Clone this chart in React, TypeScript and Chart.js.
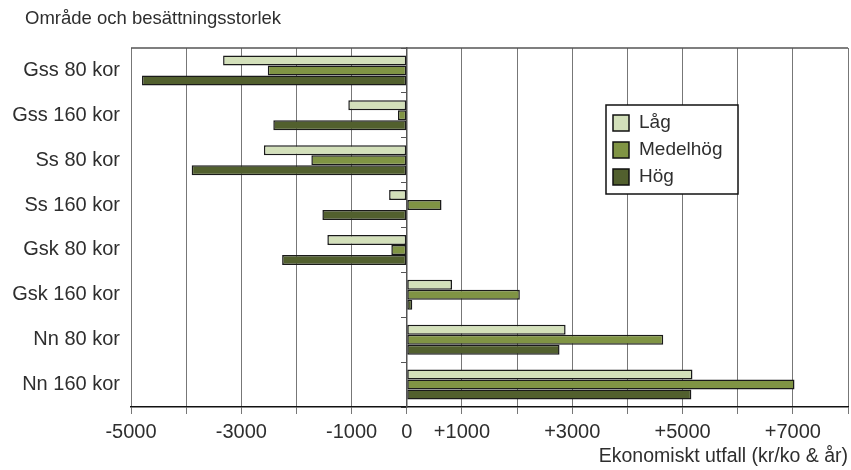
import { useEffect, useRef } from 'react';
import { Chart, registerables } from 'chart.js';

Chart.register(...registerables);

const categories = ['Gss 80 kor', 'Gss 160 kor', 'Ss 80 kor', 'Ss 160 kor', 'Gsk 80 kor', 'Gsk 160 kor', 'Nn 80 kor', 'Nn 160 kor'];
const lagValues = [-3330, -1060, -2590, -320, -1440, 820, 2880, 5180];
const medelhogValues = [-2520, -160, -1730, 630, -280, 2050, 4650, 7030];
const hogValues = [-4800, -2420, -3900, -1530, -2260, 100, 2770, 5160];
const seriesNames = ['Låg', 'Medelhög', 'Hög'];
const seriesColors = ['#d3e0ba', '#809444', '#52602e'];
const xLabeledTicks = [-5000, -3000, -1000, 0, 1000, 3000, 5000, 7000];
const xMin = -5000;
const xMax = 8000;
const xStep = 1000;
const titleText = 'Område och besättningsstorlek';
const xTitleText = 'Ekonomiskt utfall (kr/ko & år)';

const FONT = '"Liberation Sans", Arial, Helvetica, sans-serif';
const TEXT = '#2e2e2e';

const framePlugin = {
  id: 'frameTop',
  beforeDatasetsDraw(chart: any) {
    const { ctx, chartArea } = chart;
    ctx.save();
    ctx.strokeStyle = '#555';
    ctx.lineWidth = 1.5;
    ctx.beginPath();
    ctx.moveTo(chartArea.left, chartArea.top);
    ctx.lineTo(chartArea.right, chartArea.top);
    ctx.stroke();
    ctx.restore();
  },
};

const cornerTitlePlugin = {
  id: 'cornerTitle',
  afterDraw(chart: any, _args: any, opts: any) {
    const { ctx } = chart;
    ctx.save();
    ctx.font = `${opts.size}px ${FONT}`;
    ctx.fillStyle = TEXT;
    ctx.textAlign = 'left';
    ctx.textBaseline = 'middle';
    ctx.fillText(opts.text, opts.x, opts.y);
    ctx.restore();
  },
};

const boxLegendPlugin = {
  id: 'boxLegend',
  afterDraw(chart: any, _args: any, opts: any) {
    const { ctx } = chart;
    const { x, y, w, h, sw, rowH, textX } = opts;
    ctx.save();
    ctx.fillStyle = '#fff';
    ctx.fillRect(x, y, w, h);
    ctx.strokeStyle = '#111';
    ctx.lineWidth = 1.5;
    ctx.strokeRect(x, y, w, h);
    ctx.font = `19px ${FONT}`;
    ctx.textBaseline = 'middle';
    ctx.textAlign = 'left';
    chart.data.datasets.forEach((ds: any, i: number) => {
      const cy = y + 18 + i * rowH;
      ctx.fillStyle = ds.backgroundColor;
      ctx.fillRect(x + 7, cy - sw / 2, sw, sw);
      ctx.strokeStyle = '#111';
      ctx.lineWidth = 1.5;
      ctx.strokeRect(x + 7, cy - sw / 2, sw, sw);
      ctx.fillStyle = TEXT;
      ctx.fillText(ds.label, x + textX, cy);
    });
    ctx.restore();
  },
};

export default function App() {
  const ref = useRef<HTMLCanvasElement | null>(null);

  useEffect(() => {
    if (!ref.current) return;
    const seriesValues = [lagValues, medelhogValues, hogValues];
    const chart = new Chart(ref.current, {
      type: 'bar',
      data: {
        labels: categories,
        datasets: seriesNames.map((name, i) => ({
          label: name,
          data: seriesValues[i],
          backgroundColor: seriesColors[i],
          borderColor: '#1a1a1a',
          borderWidth: 1.5,
          borderSkipped: false,
          categoryPercentage: 0.667,
          barPercentage: 1.0,
          xAxisID: 'x',
          yAxisID: 'y',
        })),
      },
      options: {
        indexAxis: 'y',
        animation: false,
        responsive: false,
        layout: { padding: { left: 0, right: 3, top: 48, bottom: 0 } },
        plugins: {
          legend: { display: false },
          tooltip: { enabled: false },
          title: { display: false },
          cornerTitle: { text: titleText, x: 25, y: 19, size: 18.5 },
          boxLegend: { x: 606, y: 105, w: 132, h: 89, sw: 16, rowH: 27, textX: 33 },
        } as any,
        scales: {
          x: {
            type: 'linear',
            position: 'bottom',
            min: xMin,
            max: xMax,
            ticks: {
              stepSize: xStep,
              autoSkip: false,
              maxRotation: 0,
              color: TEXT,
              font: { family: FONT, size: 20 },
              padding: 6,
              callback: (v: any) => (xLabeledTicks.includes(Number(v)) ? (Number(v) > 0 ? '+' + v : String(v)) : ''),
            },
            grid: { color: '#777', lineWidth: 1, tickLength: 7 },
            border: { display: true, color: '#111', width: 1.5 },
            title: {
              display: true,
              text: xTitleText,
              align: 'end',
              color: TEXT,
              font: { family: FONT, size: 19.5 },
              padding: { top: 0, bottom: 2 },
            },
            afterFit: (s: any) => {
              s.height = 63;
              s.paddingRight = 0;
            },
          },
          y: {
            type: 'category',
            position: { x: 0 } as any,
            offset: true,
            ticks: { display: false },
            grid: { drawOnChartArea: false, tickLength: 5, color: '#555', offset: true },
            border: { display: true, color: '#555', width: 1.5 },
          },
          yl: {
            type: 'category',
            axis: 'y',
            position: 'left',
            offset: true,
            labels: categories,
            ticks: { color: TEXT, font: { family: FONT, size: 20 }, padding: 11 },
            grid: { display: false, drawTicks: false },
            border: { display: false },
            afterFit: (s: any) => {
              s.width = 131;
            },
          },
        } as any,
      },
      plugins: [framePlugin, cornerTitlePlugin, boxLegendPlugin],
    });
    return () => chart.destroy();
  }, []);

  return (
    <div style={{ position: 'absolute', left: 0, top: 0, width: 851, height: 470, background: '#fff' }}>
      <canvas ref={ref} width={851} height={470} />
    </div>
  );
}
